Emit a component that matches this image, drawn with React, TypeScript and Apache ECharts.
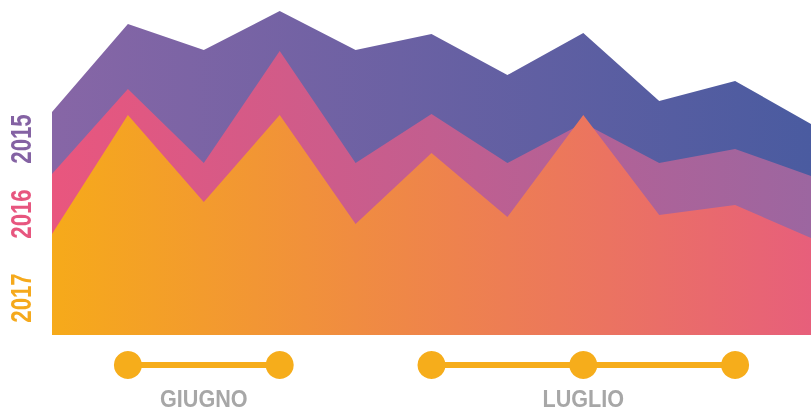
import React, { useEffect, useRef } from "react";
import * as echarts from "echarts";

const categories = ["1", "2", "3", "4", "5", "6", "7", "8", "9", "10", "11"];
const values2015 = [223, 311, 285, 324, 285, 301, 260, 302, 234, 254, 211];
const values2016 = [161, 246, 172, 284, 172, 221, 172, 212, 172, 186, 159];
const values2017 = [101, 220, 133, 220, 111, 182, 118, 220, 120, 130, 97];
const timeline = ["", "dot", "line", "dot", "", "dot", "line", "dot", "line", "dot", ""];
const monthLabels = ["", "", "GIUGNO", "", "", "", "", "LUGLIO", "", "", ""];
const monthCenters = [2, 7];
const years = ["2015", "2016", "2017"];

const grad = (a: string, b: string) =>
  new echarts.graphic.LinearGradient(0, 0, 1, 0, [
    { offset: 0, color: a },
    { offset: 1, color: b },
  ]);

export default function App() {
  const ref = useRef<HTMLDivElement>(null);
  useEffect(() => {
    const chart = echarts.init(ref.current!, null, { renderer: "svg" });
    const yearColors = ["#8462A3", "#E7567F", "#F5A91C"];
    const yearY = [139, 214, 298];
    chart.setOption({
      animation: false,
      grid: [
        { left: 52, right: 0, top: 0, bottom: 77 },
        { left: 52, right: 0, top: 355, height: 20 },
      ],
      xAxis: [
        { type: "category", data: categories, boundaryGap: false, gridIndex: 0, show: false },
        { type: "category", data: categories, boundaryGap: false, gridIndex: 1, show: false },
      ],
      yAxis: [
        { type: "value", min: 0, max: 335, gridIndex: 0, show: false },
        { type: "value", min: 0, max: 2, gridIndex: 1, show: false },
      ],
      series: [
        {
          type: "line",
          name: "2015",
          data: values2015,
          symbol: "none",
          lineStyle: { width: 0 },
          areaStyle: { color: grad("#8766A6", "#4A5BA0"), opacity: 1 },
        },
        {
          type: "line",
          name: "2016",
          data: values2016,
          symbol: "none",
          lineStyle: { width: 0 },
          areaStyle: { color: grad("#E9567E", "#9C66A0"), opacity: 1 },
        },
        {
          type: "line",
          name: "2017",
          data: values2017,
          symbol: "none",
          lineStyle: { width: 0 },
          areaStyle: { color: grad("#F6AA1A", "#E75F7B"), opacity: 1 },
        },
        {
          type: "line",
          xAxisIndex: 1,
          yAxisIndex: 1,
          data: timeline.map((t) =>
            t === "" ? null : { value: 1, symbol: t === "dot" ? "circle" : "none" }
          ),
          connectNulls: false,
          symbolSize: 28,
          itemStyle: { color: "#F6AD1B" },
          lineStyle: { color: "#F6AD1B", width: 6 },
        },
      ],
    });
    const yearTexts = years.map((y, i) => ({
      type: "text",
      x: 21,
      y: yearY[i],
      rotation: Math.PI / 2,
      scaleX: 0.74,
      scaleY: 1,
      style: {
        text: y,
        fill: yearColors[i],
        font: "bold 30px 'Liberation Sans', Arial, sans-serif",
        align: "center",
        verticalAlign: "middle",
      },
    }));
    const monthTexts = monthCenters.map((idx) => {
      const px = chart.convertToPixel({ xAxisIndex: 1 }, categories[idx]) as number;
      return {
        type: "text",
        x: px,
        y: 399,
        scaleX: 0.9,
        style: {
          text: monthLabels[idx],
          fill: "#A7A7A7",
          font: "bold 24px 'Liberation Sans', Arial, sans-serif",
          align: "center",
          verticalAlign: "middle",
        },
      };
    });
    chart.setOption({ graphic: [...yearTexts, ...monthTexts] });
    return () => chart.dispose();
  }, []);
  return (
    <div
      ref={ref}
      style={{ position: "fixed", left: 0, top: 0, width: 811, height: 412 }}
    />
  );
}
